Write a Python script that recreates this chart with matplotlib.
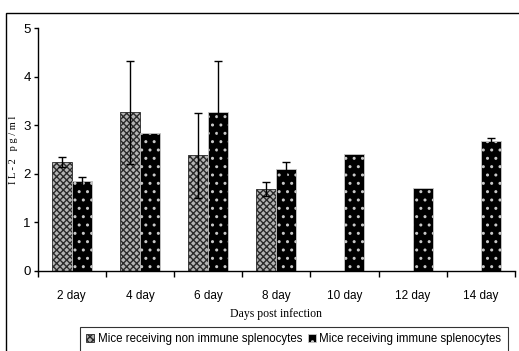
import numpy as np
import matplotlib.pyplot as plt
from matplotlib.patches import Rectangle

days = ['2 day', '4 day', '6 day', '8 day', '10 day', '12 day', '14 day']
non_immune = [2.24, 3.27, 2.38, 1.69, np.nan, np.nan, np.nan]
non_immune_err = [0.10, 1.06, 0.88, 0.15, np.nan, np.nan, np.nan]
immune = [1.85, 2.83, 3.27, 2.10, 2.41, 1.71, 2.67]
immune_err = [0.08, np.nan, 1.06, 0.14, np.nan, np.nan, 0.06]

plt.rcParams['hatch.linewidth'] = 1.0

fig = plt.figure(figsize=(5.19, 3.51), dpi=100)
ax = fig.add_axes([0.0726, 0.228, 0.9194, 0.692])

x = np.arange(len(days))
w = 0.294

b1 = ax.bar(x - w / 2, non_immune, w, facecolor='#b4b4b4', edgecolor='#2a2a2a',
            hatch='xxxxx', linewidth=0.6, zorder=2,
            label='Mice receiving non immune splenocytes')
b2 = ax.bar(x + w / 2, immune, w, facecolor='black', edgecolor='#c8c8c8',
            hatch='..', linewidth=0.6, zorder=2,
            label='Mice receiving immune splenocytes')
ax.errorbar(x - w / 2, non_immune, yerr=non_immune_err, fmt='none', ecolor='black',
            elinewidth=1, capsize=3, capthick=1, zorder=3)
ax.errorbar(x + w / 2, immune, yerr=immune_err, fmt='none', ecolor='black',
            elinewidth=1, capsize=3, capthick=1, zorder=3)

ax.set_xlim(-0.5, len(days) - 0.5)
ax.set_ylim(0, 5)
ax.set_yticks(range(6))
ax.set_xticks(x)
ax.set_xticklabels(days, fontfamily='Liberation Sans', fontsize=8.5)
ax.set_xticks(np.arange(-0.5, len(days)), minor=True)
ax.tick_params(axis='x', which='major', length=0, pad=14)
ax.tick_params(axis='x', which='minor', length=4, width=1, direction='out')
ax.tick_params(axis='y', length=3, width=1, pad=2, labelsize=9.5)
for lab in ax.get_yticklabels():
    lab.set_fontfamily('Liberation Sans')

for s in ['top', 'right']:
    ax.spines[s].set_visible(False)
for s in ['left', 'bottom']:
    ax.spines[s].set_linewidth(1)

ax.set_ylabel('I L - 2   p g / m l', fontfamily='Liberation Serif', fontsize=7.5, labelpad=4)
ax.set_xlabel('Days post infection', fontfamily='Liberation Serif', fontsize=8.5, labelpad=4)

leg = fig.legend(handles=[b1, b2], loc='upper left', bbox_to_anchor=(0.154, 0.068),
                 ncol=2, frameon=True, fancybox=False, edgecolor='black',
                 prop={'family': 'Liberation Sans', 'size': 8.3},
                 handlelength=0.7, handleheight=0.7, handletextpad=0.3,
                 columnspacing=0.5, borderpad=0.55, borderaxespad=0)
leg.get_frame().set_linewidth(0.8)

# outer chart frame
fig.add_artist(Rectangle((0.011, -0.1), 1.2, 1.062, transform=fig.transFigure,
                         fill=False, edgecolor='black', linewidth=1))

fig.savefig('out.png', dpi=100)
